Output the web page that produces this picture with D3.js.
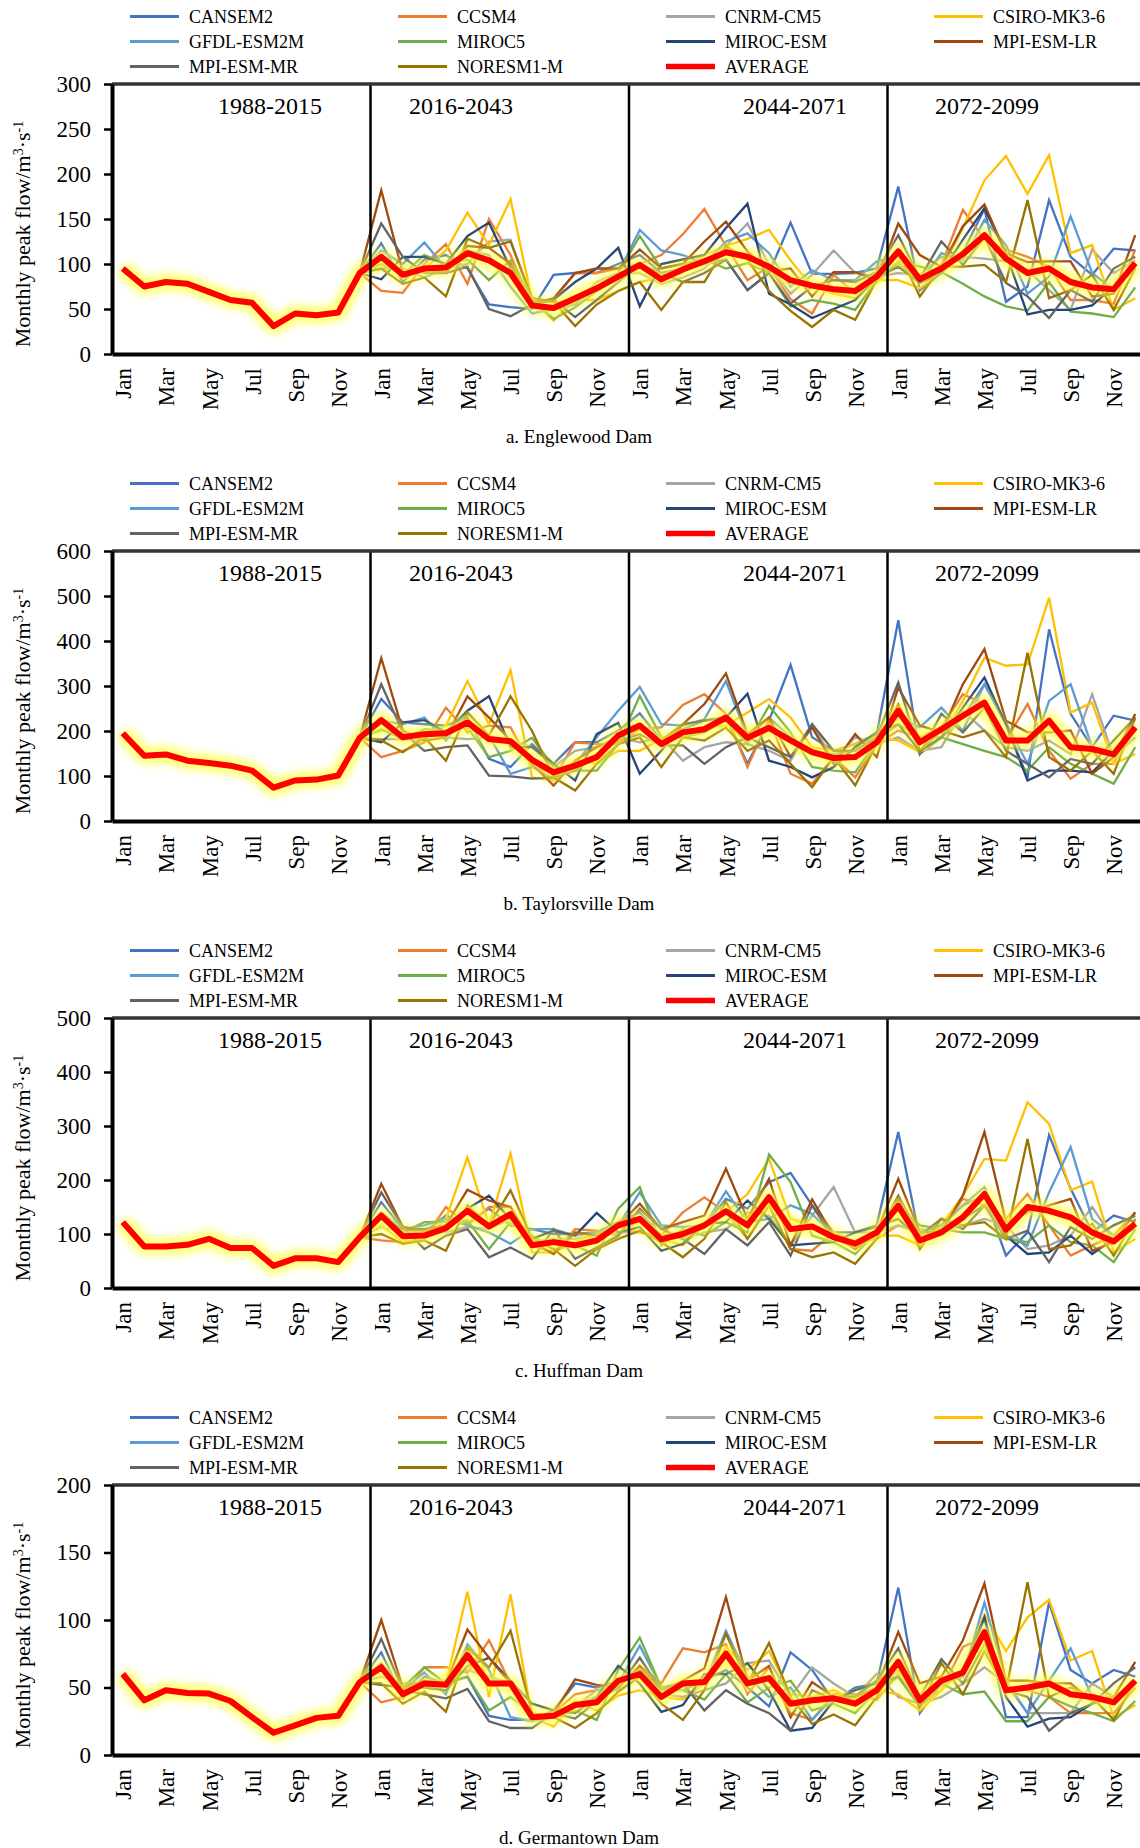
<!DOCTYPE html>
<html lang="en">
<head>
<meta charset="UTF-8">
<title>Monthly peak flow</title>
<script src="https://d3js.org/d3.v7.min.js"></script>
<style>
    body { margin: 0; background: #fff; }
    svg { display: block; font-family: "Liberation Serif", "Times New Roman", serif; }
    .axis text { font-size: 23px; fill: #000; font-family: "Liberation Serif", "Times New Roman", serif; }
    .legend text { font-size: 18px; fill: #000; }
</style>
</head>
<body>
<div id="chart"></div>
<script>
// ---- data ----
var months = ["Jan", "Feb", "Mar", "Apr", "May", "Jun", "Jul", "Aug", "Sep", "Oct", "Nov", "Dec"];
var periods = ["1988-2015", "2016-2043", "2044-2071", "2072-2099"];
var modelNames = ["CANSEM2", "CCSM4", "CNRM-CM5", "CSIRO-MK3-6", "GFDL-ESM2M", "MIROC5",
    "MIROC-ESM", "MPI-ESM-LR", "MPI-ESM-MR", "NORESM1-M"];
var modelColors = ["#4472C4", "#ED7D31", "#A5A5A5", "#FFC000", "#5B9BD5", "#70AD47",
    "#264478", "#9E480E", "#636363", "#997300"];
var captions = ["a. Englewood Dam", "b. Taylorsville Dam", "c. Huffman Dam", "d. Germantown Dam"];
var yMaxes = [300, 600, 500, 200];
var yTickSteps = [50, 100, 100, 50];

// AVERAGE: 48 months (1988-2015, 2016-2043, 2044-2071, 2072-2099)
var englewoodAvg = [95, 75, 80, 78, 69, 60, 57, 31, 45, 43, 46, 90,
    108, 88, 95, 96, 112, 104, 90, 54, 51, 62, 73, 86,
    99, 83, 94, 103, 113, 108, 97, 82, 76, 72, 70, 86,
    114, 83, 95, 111, 132, 106, 90, 95, 80, 74, 72, 101];
var taylorsvilleAvg = [195, 145, 148, 134, 129, 123, 112, 74, 90, 92, 101, 185,
    224, 186, 193, 195, 219, 182, 177, 136, 108, 123, 142, 190,
    212, 171, 197, 204, 230, 185, 207, 179, 153, 140, 142, 175,
    245, 175, 204, 234, 263, 179, 179, 223, 164, 160, 148, 208];
var huffmanAvg = [122, 77, 77, 80, 91, 74, 74, 41, 55, 55, 48, 94,
    134, 96, 97, 111, 143, 114, 137, 79, 85, 79, 88, 116,
    128, 90, 100, 116, 142, 116, 168, 109, 114, 94, 82, 103,
    152, 88, 103, 131, 174, 108, 150, 143, 131, 103, 86, 119];
var germantownAvg = [60, 40.5, 48, 46, 45.5, 40, 28, 16.5, 22, 27.5, 29, 54,
    65, 45, 53, 52, 74, 53, 53, 28, 29, 37, 39, 55,
    60, 43, 53, 54, 75, 53, 57, 38, 40.5, 42, 38, 48,
    69, 40.5, 55, 61, 91, 48, 50, 53, 45, 43, 39, 55];

// models: 36 months (2016-2043, 2044-2071, 2072-2099), order as modelNames
var englewoodModels = [
    [123, 80, 105, 110, 95, 55, 52, 50, 88, 90, 90, 100, 110, 90, 95, 100, 105, 71, 90, 146, 89, 89, 90, 95, 186, 71, 90, 113, 161, 58, 75, 171, 108, 88, 117, 115],
    [70, 68, 100, 122, 78, 150, 110, 55, 60, 90, 90, 95, 100, 110, 133, 161, 120, 82, 97, 61, 45, 88, 67, 80, 101, 82, 99, 160, 127, 116, 108, 97, 60, 60, 56, 116],
    [95, 95, 85, 95, 100, 125, 127, 58, 58, 55, 80, 90, 90, 78, 85, 95, 120, 145, 99, 67, 88, 115, 90, 86, 90, 88, 108, 108, 106, 103, 93, 71, 49, 116, 90, 104],
    [100, 88, 95, 115, 157, 121, 172, 60, 37, 60, 60, 70, 80, 85, 95, 110, 120, 128, 138, 104, 75, 67, 62, 82, 82, 73, 93, 140, 193, 220, 178, 221, 112, 121, 49, 62],
    [115, 100, 124, 95, 115, 110, 75, 45, 50, 55, 75, 90, 138, 115, 110, 100, 125, 134, 112, 75, 93, 82, 82, 103, 108, 79, 112, 104, 149, 121, 67, 86, 153, 90, 71, 97],
    [100, 88, 110, 100, 105, 82, 104, 60, 39, 52, 70, 90, 131, 95, 100, 105, 95, 101, 90, 53, 60, 56, 49, 82, 103, 97, 91, 78, 64, 53, 48, 80, 47, 45, 41, 74],
    [83, 108, 108, 100, 131, 146, 95, 58, 60, 80, 95, 118, 53, 100, 105, 110, 140, 167, 67, 55, 40, 50, 60, 85, 97, 79, 90, 127, 162, 112, 44, 49, 49, 54, 75, 101],
    [182, 90, 95, 90, 120, 118, 100, 55, 62, 90, 95, 95, 116, 95, 100, 125, 147, 114, 92, 95, 64, 91, 91, 82, 145, 110, 97, 142, 166, 112, 102, 103, 103, 64, 67, 132],
    [145, 108, 90, 90, 97, 50, 42, 55, 60, 41, 60, 80, 100, 90, 80, 90, 105, 71, 90, 56, 75, 82, 80, 91, 132, 84, 125, 99, 130, 79, 64, 40, 71, 58, 95, 108],
    [95, 78, 85, 64, 128, 118, 125, 62, 58, 31, 55, 70, 80, 49, 80, 80, 120, 105, 70, 48, 30, 49, 38, 82, 114, 64, 97, 97, 99, 80, 171, 62, 71, 88, 49, 95]
];
var taylorsvilleModels = [
    [271, 219, 215, 212, 230, 138, 120, 171, 127, 175, 175, 201, 239, 179, 204, 223, 230, 127, 223, 347, 186, 156, 171, 193, 446, 149, 186, 230, 304, 215, 97, 426, 238, 164, 234, 223],
    [142, 156, 175, 252, 197, 212, 208, 120, 94, 175, 171, 171, 204, 208, 258, 282, 238, 120, 226, 105, 83, 142, 97, 171, 201, 186, 208, 282, 260, 179, 260, 156, 94, 127, 127, 230],
    [182, 182, 179, 186, 182, 186, 179, 164, 120, 156, 164, 186, 175, 186, 134, 164, 175, 171, 156, 134, 215, 134, 186, 171, 186, 156, 164, 245, 201, 164, 156, 179, 149, 282, 142, 186],
    [201, 197, 186, 212, 311, 215, 335, 97, 90, 134, 127, 156, 156, 182, 197, 208, 212, 241, 271, 230, 164, 156, 171, 186, 179, 153, 186, 267, 363, 345, 348, 496, 241, 263, 127, 149],
    [223, 215, 230, 179, 241, 190, 105, 120, 108, 127, 186, 245, 298, 215, 212, 226, 311, 186, 230, 186, 156, 149, 156, 186, 230, 208, 252, 201, 304, 219, 127, 267, 304, 164, 149, 186],
    [204, 182, 204, 201, 208, 142, 156, 185, 120, 112, 112, 171, 278, 186, 186, 197, 223, 171, 256, 197, 120, 112, 108, 179, 215, 186, 186, 171, 156, 142, 112, 164, 127, 105, 83, 164],
    [175, 219, 224, 197, 245, 277, 164, 164, 127, 90, 193, 218, 105, 156, 215, 223, 230, 283, 134, 120, 97, 120, 164, 197, 215, 156, 186, 252, 319, 215, 90, 112, 112, 108, 156, 208],
    [362, 201, 179, 186, 277, 230, 179, 127, 79, 134, 164, 186, 215, 179, 215, 260, 328, 193, 230, 142, 208, 127, 193, 142, 297, 212, 197, 304, 382, 223, 197, 197, 201, 105, 142, 238],
    [304, 197, 156, 164, 168, 101, 99, 94, 97, 112, 145, 179, 193, 168, 168, 127, 164, 186, 164, 142, 215, 156, 156, 186, 308, 149, 238, 197, 252, 156, 127, 97, 138, 127, 179, 230],
    [179, 153, 186, 134, 241, 190, 277, 200, 97, 68, 127, 171, 186, 120, 186, 179, 208, 156, 179, 127, 75, 142, 79, 171, 260, 156, 201, 186, 201, 142, 374, 142, 112, 156, 105, 230]
];
var huffmanModels = [
    [159, 109, 103, 134, 119, 147, 116, 109, 100, 100, 103, 122, 140, 97, 103, 116, 165, 147, 196, 213, 153, 103, 103, 116, 289, 91, 116, 153, 171, 60, 103, 283, 184, 103, 134, 122],
    [88, 85, 91, 150, 116, 150, 150, 79, 66, 109, 106, 97, 128, 97, 140, 168, 140, 91, 153, 72, 69, 103, 85, 91, 116, 103, 109, 165, 153, 128, 174, 116, 60, 79, 97, 140],
    [113, 103, 103, 103, 113, 109, 128, 85, 91, 91, 97, 103, 103, 97, 91, 103, 109, 140, 134, 79, 134, 187, 103, 103, 116, 109, 103, 116, 128, 116, 72, 79, 97, 150, 91, 122],
    [116, 85, 91, 128, 242, 116, 249, 66, 66, 85, 103, 113, 103, 91, 79, 116, 140, 174, 239, 128, 116, 103, 72, 97, 97, 79, 116, 171, 239, 236, 344, 304, 181, 197, 66, 91],
    [140, 109, 116, 128, 116, 103, 82, 109, 109, 97, 103, 116, 177, 116, 113, 116, 179, 122, 128, 153, 137, 97, 79, 109, 153, 103, 116, 153, 187, 97, 79, 177, 261, 128, 97, 109],
    [128, 103, 122, 123, 125, 72, 122, 97, 72, 79, 60, 147, 187, 79, 109, 97, 122, 103, 247, 196, 97, 85, 63, 103, 150, 116, 109, 103, 103, 91, 85, 116, 85, 79, 48, 109],
    [128, 109, 109, 116, 147, 171, 128, 91, 106, 97, 139, 103, 113, 69, 82, 119, 122, 162, 128, 79, 82, 85, 103, 113, 128, 91, 103, 128, 153, 97, 63, 66, 97, 63, 91, 116],
    [193, 113, 106, 116, 182, 162, 150, 85, 63, 103, 97, 116, 156, 109, 122, 134, 221, 128, 202, 79, 164, 97, 72, 103, 202, 103, 103, 171, 289, 122, 140, 153, 165, 69, 85, 140],
    [177, 113, 72, 97, 109, 57, 75, 54, 109, 54, 75, 97, 147, 109, 91, 63, 109, 79, 122, 60, 153, 91, 85, 97, 171, 97, 128, 109, 153, 91, 106, 48, 113, 91, 116, 134],
    [100, 82, 88, 69, 153, 116, 181, 91, 72, 41, 72, 91, 106, 85, 57, 91, 159, 91, 153, 72, 57, 66, 45, 91, 165, 72, 128, 116, 122, 91, 276, 72, 79, 119, 60, 128]
];
var germantownModels = [
    [76, 42, 58, 53, 58, 29, 26, 26, 33, 53, 50, 55, 63, 48, 48, 55, 63, 50, 36, 76, 63, 40, 50, 53, 124, 31, 53, 58, 102, 28, 28, 113, 63, 53, 63, 58],
    [39, 43, 65, 65, 61, 85, 53, 26, 31, 45, 48, 50, 66, 53, 79, 76, 82, 45, 65, 31, 26, 45, 45, 41, 60, 38, 48, 80, 87, 50, 48, 43, 31, 31, 31, 50],
    [58, 53, 53, 55, 63, 58, 53, 28, 28, 36, 48, 48, 58, 45, 43, 48, 53, 68, 70, 43, 65, 53, 43, 60, 43, 38, 43, 53, 65, 53, 31, 31, 31, 53, 43, 53],
    [63, 43, 55, 53, 121, 43, 119, 28, 21, 40, 33, 44, 48, 43, 41, 53, 80, 63, 77, 45, 43, 48, 41, 48, 45, 33, 48, 63, 104, 77, 102, 115, 70, 77, 28, 37],
    [68, 48, 61, 45, 82, 63, 28, 25, 28, 37, 43, 53, 81, 50, 53, 53, 92, 58, 43, 50, 26, 43, 38, 48, 63, 43, 53, 58, 113, 55, 31, 55, 79, 43, 38, 53],
    [63, 50, 65, 53, 58, 33, 43, 31, 28, 33, 26, 63, 87, 50, 48, 41, 60, 39, 50, 55, 33, 38, 31, 48, 58, 43, 53, 45, 47, 25, 25, 43, 36, 31, 25, 40],
    [52, 50, 50, 48, 66, 72, 55, 38, 33, 31, 43, 66, 53, 32, 37, 60, 60, 68, 48, 18, 20, 40, 48, 53, 58, 36, 55, 63, 102, 43, 21, 27, 28, 38, 43, 53],
    [100, 50, 55, 53, 93, 72, 53, 28, 31, 56, 52, 50, 66, 48, 55, 64, 117, 55, 66, 28, 54, 43, 43, 50, 91, 53, 58, 85, 127, 55, 55, 53, 53, 40, 43, 69],
    [86, 48, 45, 42, 49, 25, 20, 20, 31, 27, 40, 50, 72, 48, 53, 33, 48, 38, 31, 18, 48, 41, 43, 55, 79, 43, 71, 53, 82, 48, 43, 18, 31, 38, 53, 65],
    [53, 38, 47, 32, 79, 65, 92, 31, 28, 20, 31, 47, 58, 38, 26, 48, 90, 53, 83, 43, 23, 30, 22, 43, 70, 36, 68, 45, 77, 48, 128, 43, 50, 43, 26, 55]
];

var avgSeries = [englewoodAvg, taylorsvilleAvg, huffmanAvg, germantownAvg];
var modelSeries = [englewoodModels, taylorsvilleModels, huffmanModels, germantownModels];

// ---- layout ----
var width = 1140, height = 1848;
var panelStep = 467;
var plotLeft = 112, plotRight = 1146, plotTop = 84, plotH = 270;
var periodLabelX = [270, 461, 795, 987];

var svg = d3.select("#chart").append("svg")
    .attr("width", width)
    .attr("height", height);

svg.append("rect").attr("width", width).attr("height", height).attr("fill", "#fff");

// soft yellow glow behind the average line
var defs = svg.append("defs");
defs.append("filter").attr("id", "glow")
    .attr("x", "-5%").attr("y", "-30%").attr("width", "110%").attr("height", "160%")
    .append("feGaussianBlur").attr("stdDeviation", 4);

var cats = d3.range(48);
var x = d3.scalePoint().domain(cats).range([plotLeft, plotRight]).padding(0.5);
var step = x.step();

avgSeries.forEach(function(avg, p) {
    var g = svg.append("g").attr("transform", "translate(0," + (p * panelStep) + ")");
    var y = d3.scaleLinear().domain([0, yMaxes[p]]).range([plotTop + plotH, plotTop]);

    // legend
    var entries = modelNames.map(function(n, i) { return { name: n, color: modelColors[i], w: 3 }; });
    entries.push({ name: "AVERAGE", color: "#FF0000", w: 5.5 });
    var legend = g.selectAll(".legend").data(entries).enter().append("g")
        .attr("class", "legend")
        .attr("transform", function(d, i) {
            return "translate(" + (130 + (i % 4) * 268) + "," + (16.5 + Math.floor(i / 4) * 25) + ")";
        });
    legend.append("line")
        .attr("x1", 0).attr("x2", 49)
        .attr("stroke", function(d) { return d.color; })
        .attr("stroke-width", function(d) { return d.w; });
    legend.append("text")
        .attr("x", 59).attr("dy", "0.35em")
        .text(function(d) { return d.name; });

    // model lines start at Dec of the baseline period
    var line = d3.line()
        .x(function(d) { return x(d.i); })
        .y(function(d) { return y(d.v); });

    modelSeries[p].forEach(function(vals, m) {
        var pts = [{ i: 11, v: avg[11] }].concat(vals.map(function(v, k) { return { i: 12 + k, v: v }; }));
        g.append("path")
            .datum(pts)
            .attr("fill", "none")
            .attr("stroke", modelColors[m])
            .attr("stroke-width", 2.3)
            .attr("stroke-linejoin", "miter")
            .attr("d", line);
    });

    var avgPts = avg.map(function(v, i) { return { i: i, v: v }; });
    g.append("path")
        .datum(avgPts)
        .attr("fill", "none")
        .attr("stroke", "#FFFF40")
        .attr("stroke-opacity", 0.8)
        .attr("stroke-width", 16)
        .attr("stroke-linejoin", "round")
        .attr("filter", "url(#glow)")
        .attr("d", line);
    g.append("path")
        .datum(avgPts)
        .attr("fill", "none")
        .attr("stroke", "#FF0000")
        .attr("stroke-width", 6)
        .attr("stroke-linejoin", "round")
        .attr("d", line);

    // period separators and labels
    [12, 24, 36].forEach(function(c) {
        g.append("line")
            .attr("x1", x(c) - step / 2).attr("x2", x(c) - step / 2)
            .attr("y1", plotTop).attr("y2", plotTop + plotH)
            .attr("stroke", "#000").attr("stroke-width", 2.5);
    });
    periods.forEach(function(t, k) {
        g.append("text")
            .attr("x", periodLabelX[k]).attr("y", plotTop + 30)
            .attr("text-anchor", "middle")
            .style("font-size", "24px")
            .text(t);
    });

    // frame top
    g.append("line")
        .attr("x1", plotLeft).attr("x2", width)
        .attr("y1", plotTop).attr("y2", plotTop)
        .attr("stroke", "#333").attr("stroke-width", 3.5);

    // axes
    var yAxis = g.append("g").attr("class", "axis")
        .attr("transform", "translate(" + plotLeft + ",0)")
        .call(d3.axisLeft(y)
            .tickValues(d3.range(0, yMaxes[p] + 1, yTickSteps[p]))
            .tickSize(8).tickSizeOuter(0).tickPadding(13));
    yAxis.attr("font-family", null).attr("font-size", null);
    yAxis.select(".domain").attr("stroke-width", 4);
    yAxis.selectAll(".tick line").attr("stroke-width", 2.5);

    var xAxis = g.append("g").attr("class", "axis")
        .attr("transform", "translate(0," + (plotTop + plotH) + ")")
        .call(d3.axisBottom(x)
            .tickValues(d3.range(0, 48, 2))
            .tickFormat(function(d) { return months[d % 12]; })
            .tickSize(0).tickSizeOuter(0));
    xAxis.attr("font-family", null).attr("font-size", null);
    xAxis.select(".domain").attr("stroke-width", 4);
    xAxis.selectAll("text")
        .attr("transform", "rotate(-90)")
        .attr("x", -14).attr("y", 0).attr("dy", "0.35em")
        .style("text-anchor", "end");

    // y title
    var yt = g.append("text")
        .attr("transform", "translate(30," + (plotTop + 150) + ") rotate(-90)")
        .attr("text-anchor", "middle")
        .style("font-size", "22px");
    yt.append("tspan").text("Monthly peak flow/m");
    yt.append("tspan").attr("baseline-shift", "super").style("font-size", "14px").text("3");
    yt.append("tspan").text("·s");
    yt.append("tspan").attr("baseline-shift", "super").style("font-size", "14px").text("-1");

    // caption
    g.append("text")
        .attr("x", 579).attr("y", 443)
        .attr("text-anchor", "middle")
        .style("font-size", "19px")
        .text(captions[p]);
});
</script>
</body>
</html>
